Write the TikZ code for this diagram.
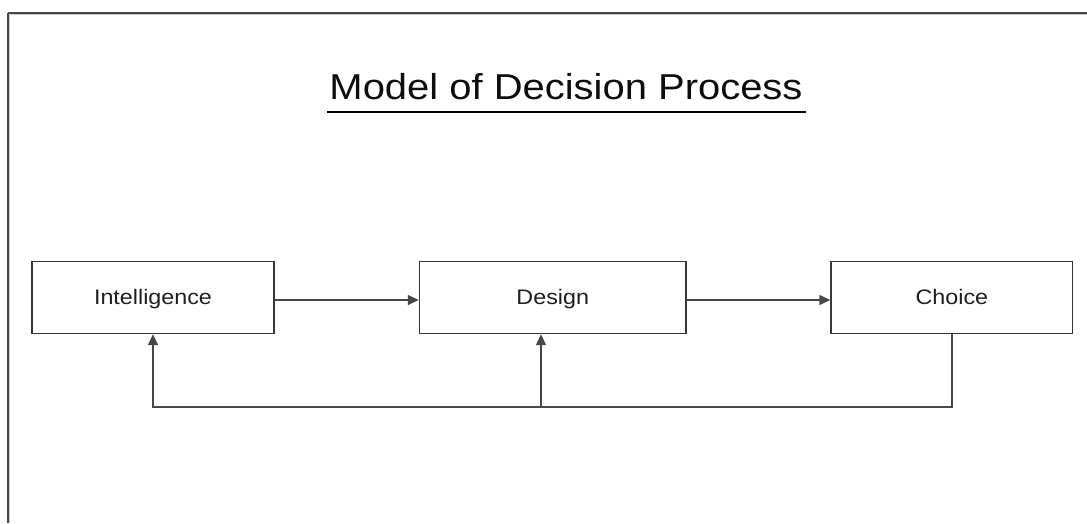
\documentclass[tikz,border=0pt]{standalone}
\usepackage{fontspec}
\setmainfont{Liberation Sans}[FakeStretch=1.11]
\usetikzlibrary{arrows.meta}
\begin{document}
\begin{tikzpicture}[x=1pt,y=-1pt,
  stagebox/.style={draw=black!78, line width=1.4pt, minimum height=72pt, inner sep=0pt, fill=white},
  label/.style={font=\fontsize{21}{25}\selectfont, text=black!88},
  link/.style={draw=black!72, line width=1.4pt},
  arr/.style={link, -{Triangle[length=11pt,width=10pt]}},
]
\useasboundingbox (0,0) rectangle (1087,523);
\fill[white] (0,0) rectangle (1087,523);

% slide frame: top and left edges with a soft shade
\draw[black!22, line width=1.4pt] (9.5,14.5) -- (1087,14.5);
\draw[black!22, line width=1.4pt] (9.5,14.5) -- (9.5,523);
\draw[black!72, line width=1.5pt] (8,13) -- (1087,13);
\draw[black!72, line width=1.5pt] (8,13) -- (8,523);

% title
\node[anchor=base, font=\fontsize{36}{42}\selectfont, text=black!95, inner sep=0pt] (title) at (566,99) {Model of Decision Process};
\draw[black, line width=2pt] (327,111.5) -- (806,111.5);

% stages
\node[stagebox, minimum width=242pt] (int) at (153,297.5) {};
\node[stagebox, minimum width=266.5pt] (des) at (552.75,297.5) {};
\node[stagebox, minimum width=241.7pt] (cho) at (951.85,297.5) {};

\node[label, anchor=base] (intl) at (153,304) {Intelligence};
\node[label, anchor=base] (desl) at (552.75,304) {Design};
\node[label, anchor=base] (chol) at (951.85,304) {Choice};

% forward flow
\draw[arr] ([yshift=-2.5pt]int.east) -- ([yshift=-2.5pt]des.west);
\draw[arr] ([yshift=-2.5pt]des.east) -- ([yshift=-2.5pt]cho.west);

% feedback loop
\coordinate (corner) at (153,407);
\coordinate (join) at (541,407);
\draw[arr] (cho.south) |- (corner) -- (int.south);
\draw[arr] (join) -- (join |- des.south);
\end{tikzpicture}
\end{document}
